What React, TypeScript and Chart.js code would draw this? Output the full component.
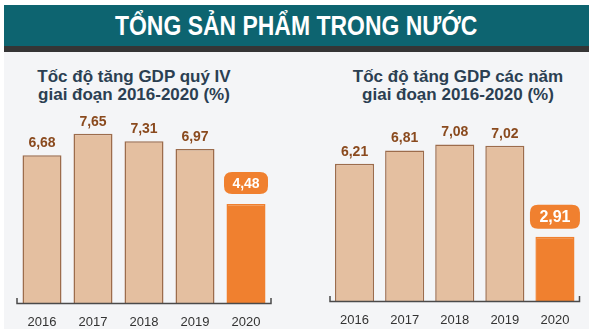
import { useEffect, useRef } from "react";
import { Chart, registerables } from "chart.js";

Chart.register(...registerables);

const headerText = "TỔNG SẢN PHẨM TRONG NƯỚC";
const years = ["2016", "2017", "2018", "2019", "2020"];
const quarterIV = [6.68, 7.65, 7.31, 6.97, 4.48];
const annual = [6.21, 6.81, 7.08, 7.02, 2.91];
const titleIV = ["Tốc độ tăng GDP quý IV", "giai đoạn 2016-2020 (%)"];
const titleYear = ["Tốc độ tăng GDP các năm", "giai đoạn 2016-2020 (%)"];

const FONT = '"Liberation Sans", Arial, sans-serif';
const PEACH = "#e4bfa0";
const PEACH_BORDER = "#9c6c4c";
const ORANGE = "#f0802f";
const LABEL_BROWN = "#8a4a1e";

function fmt(v: number) {
  return v.toFixed(2).replace(".", ",");
}

function roundRect(ctx: CanvasRenderingContext2D, x: number, y: number, w: number, h: number, r: number) {
  ctx.beginPath();
  ctx.moveTo(x + r, y);
  ctx.lineTo(x + w - r, y);
  ctx.quadraticCurveTo(x + w, y, x + w, y + r);
  ctx.lineTo(x + w, y + h - r);
  ctx.quadraticCurveTo(x + w, y + h, x + w - r, y + h);
  ctx.lineTo(x + r, y + h);
  ctx.quadraticCurveTo(x, y + h, x, y + h - r);
  ctx.lineTo(x, y + r);
  ctx.quadraticCurveTo(x, y, x + r, y);
  ctx.closePath();
}

const decorPlugin = {
  id: "decor",
  afterDatasetsDraw(chart: any, _args: any, opts: any) {
    const ctx: CanvasRenderingContext2D = chart.ctx;
    const meta = chart.getDatasetMeta(0);
    const data = chart.data.datasets[0].data as number[];
    const labels = chart.data.labels as string[];
    const area = chart.chartArea;
    const base = chart.scales.y.getPixelForValue(0);
    ctx.save();
    // axis with end ticks
    ctx.strokeStyle = "#4a4a4a";
    ctx.lineWidth = 1.5;
    ctx.beginPath();
    ctx.moveTo(area.left + 0.5, base - 5);
    ctx.lineTo(area.left + 0.5, base + 0.5);
    ctx.lineTo(area.right - 0.5, base + 0.5);
    ctx.lineTo(area.right - 0.5, base - 5);
    ctx.stroke();
    // value labels
    meta.data.forEach((bar: any, i: number) => {
      const txt = fmt(data[i]);
      const top = bar.y;
      if (i === data.length - 1) {
        const bw = opts.boxW, bh = opts.boxH;
        const cy = top - opts.boxGap - bh / 2;
        ctx.fillStyle = ORANGE;
        roundRect(ctx, bar.x - bw / 2, cy - bh / 2, bw, bh, 8);
        ctx.fill();
        ctx.fillStyle = "#ffffff";
        ctx.font = `bold ${opts.boxFont}px ${FONT}`;
        ctx.textAlign = "center";
        ctx.textBaseline = "middle";
        ctx.fillText(txt, bar.x, cy + 1);
      } else {
        ctx.fillStyle = LABEL_BROWN;
        ctx.font = `bold 14px ${FONT}`;
        ctx.textAlign = "center";
        ctx.textBaseline = "middle";
        ctx.fillText(txt, bar.x, top - 12);
      }
    });
    // category labels
    ctx.fillStyle = "#333333";
    ctx.font = `13px ${FONT}`;
    ctx.textAlign = "center";
    ctx.textBaseline = "middle";
    labels.forEach((lab, i) => {
      const x = chart.scales.x.getPixelForValue(i);
      ctx.fillText(lab, x, base + 19);
    });
    ctx.restore();
  },
};

function BarChart(props: {
  values: number[];
  padding: { left: number; right: number; top: number; bottom: number };
  barPct: number;
  boxW: number;
  boxH: number;
  boxGap: number;
  boxFont: number;
  width: number;
  height: number;
  style: any;
}) {
  const ref = useRef<HTMLCanvasElement>(null);
  useEffect(() => {
    const n = props.values.length;
    const chart = new Chart(ref.current!, {
      type: "bar",
      data: {
        labels: years,
        datasets: [
          {
            data: props.values,
            backgroundColor: props.values.map((_, i) => (i === n - 1 ? ORANGE : PEACH)),
            borderColor: props.values.map((_, i) => (i === n - 1 ? ORANGE : PEACH_BORDER)),
            borderWidth: 1.5,
            categoryPercentage: 1,
            barPercentage: props.barPct,
          },
        ],
      },
      options: {
        responsive: false,
        animation: false,
        layout: { padding: props.padding },
        plugins: {
          legend: { display: false },
          tooltip: { enabled: false },
          decor: {
            boxW: props.boxW,
            boxH: props.boxH,
            boxGap: props.boxGap,
            boxFont: props.boxFont,
          },
        } as any,
        scales: {
          x: { display: false },
          y: { display: false, min: 0, max: 9 },
        },
      },
      plugins: [decorPlugin],
    });
    return () => chart.destroy();
  }, []);
  return <canvas ref={ref} width={props.width} height={props.height} style={props.style} />;
}

const titleStyle = (cx: number, top: number): any => ({
  position: "absolute",
  left: cx - 140,
  width: 280,
  top,
  textAlign: "center",
  fontFamily: FONT,
  fontWeight: "bold",
  fontSize: 17,
  lineHeight: "18px",
  color: "#2b3f52",
  whiteSpace: "nowrap",
});

export default function App() {
  return (
    <div
      style={{
        position: "absolute",
        left: 0,
        top: 0,
        width: 591,
        height: 329,
        background: "#ffffff",
        overflow: "hidden",
        fontFamily: FONT,
      }}
    >
      <div
        style={{
          position: "absolute",
          left: 4,
          top: 5,
          width: 585,
          height: 41,
          background: "#0d6470",
          color: "#ffffff",
          fontWeight: "bold",
          fontSize: 27,
          lineHeight: "43px",
          textAlign: "center",
          whiteSpace: "nowrap",
        }}
      >
        <span style={{ display: "inline-block", transform: "scaleX(0.85)", transformOrigin: "50% 50%" }}>
          {headerText}
        </span>
      </div>
      <div style={{ position: "absolute", left: 4, top: 46, width: 585, height: 6, background: "#353535" }} />
      <div style={{ position: "absolute", left: 4, top: 52, width: 585, height: 277, background: "#f4f5f7" }} />
      <div style={titleStyle(134, 68)}>
        {titleIV[0]}
        <br />
        {titleIV[1]}
      </div>
      <div style={titleStyle(458, 68)}>
        {titleYear[0]}
        <br />
        {titleYear[1]}
      </div>
      <BarChart
        values={quarterIV}
        padding={{ left: 16.5, right: 18.5, top: 4, bottom: 26 }}
        barPct={0.765}
        boxW={44}
        boxH={22}
        boxGap={10}
        boxFont={14}
        width={290}
        height={229}
        style={{ position: "absolute", left: 0, top: 100 }}
      />
      <BarChart
        values={annual}
        padding={{ left: 29.5, right: 11, top: 2, bottom: 28 }}
        barPct={0.78}
        boxW={50}
        boxH={24}
        boxGap={8}
        boxFont={16}
        width={291}
        height={229}
        style={{ position: "absolute", left: 300, top: 100 }}
      />
    </div>
  );
}
